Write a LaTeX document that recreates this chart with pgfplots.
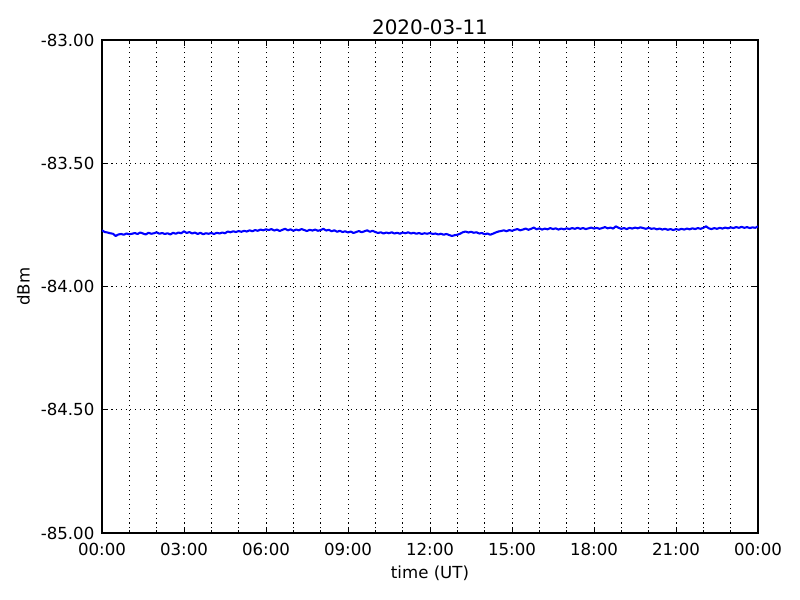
\documentclass[border=0pt]{standalone}
\usepackage{fontspec}
\setmainfont{DejaVu Sans}
\usepackage{pgfplots}
\pgfplotsset{compat=1.18}

\pgfplotstableread{
h dbm
0.0 -83.772
0.1 -83.779
0.2 -83.781
0.3 -83.784
0.4 -83.786
0.5 -83.795
0.6 -83.789
0.7 -83.787
0.8 -83.790
0.9 -83.785
1.0 -83.788
1.1 -83.786
1.2 -83.783
1.3 -83.787
1.4 -83.781
1.5 -83.785
1.6 -83.789
1.7 -83.782
1.8 -83.786
1.9 -83.784
2.0 -83.780
2.1 -83.786
2.2 -83.783
2.3 -83.787
2.4 -83.784
2.5 -83.789
2.6 -83.782
2.7 -83.786
2.8 -83.781
2.9 -83.784
3.0 -83.776
3.1 -83.783
3.2 -83.779
3.3 -83.785
3.4 -83.781
3.5 -83.787
3.6 -83.782
3.7 -83.788
3.8 -83.784
3.9 -83.786
4.0 -83.783
4.1 -83.787
4.2 -83.782
4.3 -83.785
4.4 -83.781
4.5 -83.784
4.6 -83.777
4.7 -83.780
4.8 -83.776
4.9 -83.779
5.0 -83.775
5.1 -83.778
5.2 -83.774
5.3 -83.777
5.4 -83.772
5.5 -83.776
5.6 -83.771
5.7 -83.774
5.8 -83.769
5.9 -83.772
6.0 -83.768
6.1 -83.771
6.2 -83.767
6.3 -83.773
6.4 -83.769
6.5 -83.775
6.6 -83.770
6.7 -83.766
6.8 -83.772
6.9 -83.768
7.0 -83.774
7.1 -83.769
7.2 -83.772
7.3 -83.767
7.4 -83.771
7.5 -83.775
7.6 -83.770
7.7 -83.773
7.8 -83.769
7.9 -83.774
8.0 -83.771
8.1 -83.766
8.2 -83.773
8.3 -83.770
8.4 -83.776
8.5 -83.772
8.6 -83.778
8.7 -83.774
8.8 -83.779
8.9 -83.776
9.0 -83.781
9.1 -83.777
9.2 -83.783
9.3 -83.779
9.4 -83.775
9.5 -83.780
9.6 -83.776
9.7 -83.772
9.8 -83.778
9.9 -83.774
10.0 -83.779
10.1 -83.783
10.2 -83.780
10.3 -83.785
10.4 -83.781
10.5 -83.784
10.6 -83.780
10.7 -83.785
10.8 -83.782
10.9 -83.786
11.0 -83.781
11.1 -83.784
11.2 -83.780
11.3 -83.785
11.4 -83.782
11.5 -83.786
11.6 -83.783
11.7 -83.787
11.8 -83.784
11.9 -83.786
12.0 -83.783
12.1 -83.787
12.2 -83.785
12.3 -83.789
12.4 -83.786
12.5 -83.790
12.6 -83.787
12.7 -83.791
12.8 -83.795
12.9 -83.792
13.0 -83.790
13.1 -83.786
13.2 -83.780
13.3 -83.777
13.4 -83.781
13.5 -83.778
13.6 -83.782
13.7 -83.780
13.8 -83.785
13.9 -83.783
14.0 -83.788
14.1 -83.785
14.2 -83.790
14.3 -83.786
14.4 -83.781
14.5 -83.777
14.6 -83.775
14.7 -83.772
14.8 -83.776
14.9 -83.771
15.0 -83.774
15.1 -83.770
15.2 -83.767
15.3 -83.772
15.4 -83.769
15.5 -83.765
15.6 -83.770
15.7 -83.766
15.8 -83.761
15.9 -83.768
16.0 -83.764
16.1 -83.769
16.2 -83.765
16.3 -83.768
16.4 -83.763
16.5 -83.767
16.6 -83.764
16.7 -83.769
16.8 -83.765
16.9 -83.768
17.0 -83.764
17.1 -83.767
17.2 -83.763
17.3 -83.766
17.4 -83.762
17.5 -83.766
17.6 -83.763
17.7 -83.767
17.8 -83.764
17.9 -83.761
18.0 -83.765
18.1 -83.762
18.2 -83.766
18.3 -83.763
18.4 -83.759
18.5 -83.764
18.6 -83.761
18.7 -83.765
18.8 -83.756
18.9 -83.762
19.0 -83.766
19.1 -83.763
19.2 -83.767
19.3 -83.762
19.4 -83.765
19.5 -83.761
19.6 -83.764
19.7 -83.760
19.8 -83.763
19.9 -83.766
20.0 -83.762
20.1 -83.766
20.2 -83.764
20.3 -83.768
20.4 -83.765
20.5 -83.769
20.6 -83.766
20.7 -83.770
20.8 -83.767
20.9 -83.771
21.0 -83.767
21.1 -83.770
21.2 -83.766
21.3 -83.769
21.4 -83.765
21.5 -83.768
21.6 -83.764
21.7 -83.767
21.8 -83.763
21.9 -83.766
22.0 -83.762
22.1 -83.756
22.2 -83.764
22.3 -83.767
22.4 -83.763
22.5 -83.766
22.6 -83.762
22.7 -83.765
22.8 -83.761
22.9 -83.764
23.0 -83.760
23.1 -83.763
23.2 -83.759
23.3 -83.762
23.4 -83.758
23.5 -83.762
23.6 -83.759
23.7 -83.763
23.8 -83.760
23.9 -83.762
24.0 -83.756
}\signal

\begin{document}
\begin{tikzpicture}
\begin{axis}[
  scale only axis,
  width=6.56in, height=4.93in,
  xmin=0, xmax=24, ymin=-85, ymax=-83,
  xtick={0,3,...,24},
  xticklabels={00:00,03:00,06:00,09:00,12:00,15:00,18:00,21:00,00:00},
  minor xtick={1,2,4,5,7,8,10,11,13,14,16,17,19,20,22,23},
  ytick={-85,-84.5,-84,-83.5,-83},
  yticklabels={-85.00,-84.50,-84.00,-83.50,-83.00},
  tick align=inside,
  major tick length=4pt, minor tick length=2pt,
  tick style={black, line width=0.5pt},
  grid=both,
  major grid style={black, line width=0.6pt, dash pattern=on 0.8pt off 2.6pt},
  minor grid style={black, line width=0.6pt, dash pattern=on 0.8pt off 2.6pt},
  axis line style={black, line width=0.8pt},
  ticklabel style={font=\fontsize{12}{14}\selectfont},
  xticklabel style={yshift=-3.6pt},
  yticklabel style={xshift=-2pt},
  label style={font=\fontsize{12}{14}\selectfont},
  title style={font=\fontsize{14.4}{17}\selectfont, yshift=-5.6pt},
  title={2020-03-11},
  xlabel={time (UT)},
  ylabel={dBm},
  xlabel style={yshift=-0.5pt},
  ylabel style={yshift=1pt},
]
\addplot[blue, line width=1.5pt, line join=round] table[x=h, y=dbm] {\signal};
\end{axis}
\path (current axis.south west) ++(-1.02in,-0.67in) rectangle ++(8in,6in);
\end{tikzpicture}
\end{document}
